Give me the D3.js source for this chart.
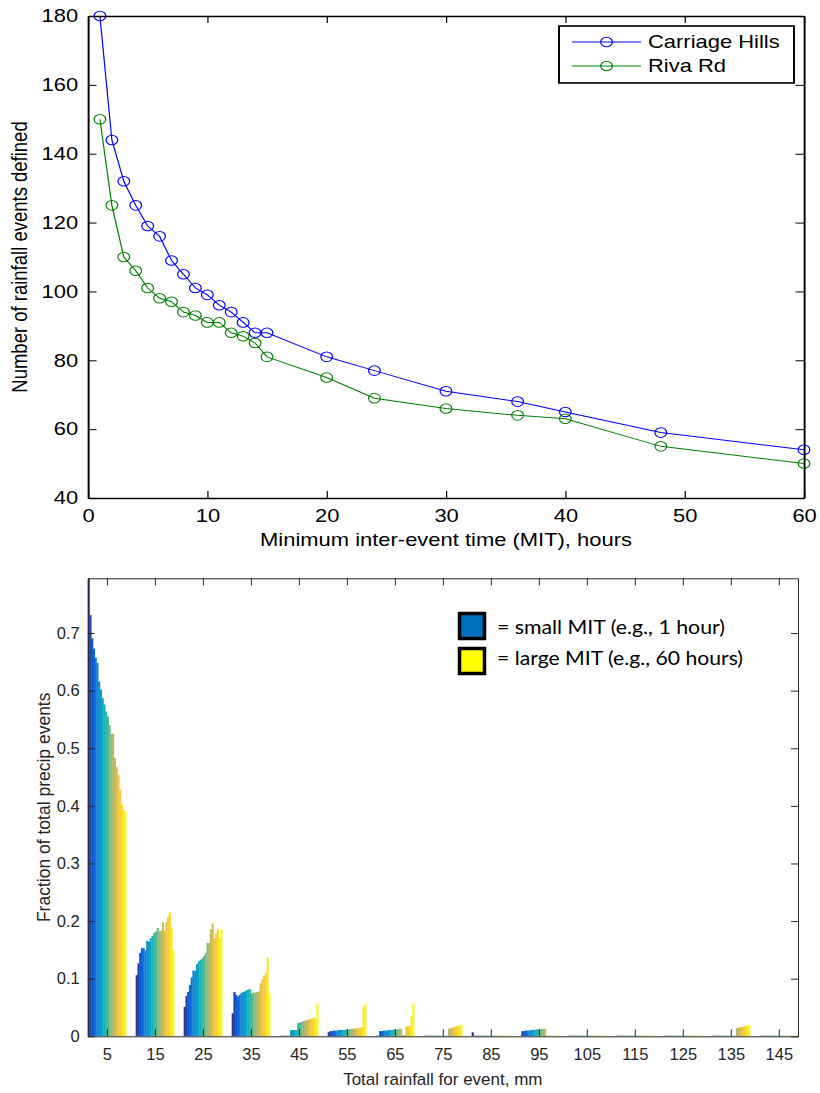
<!DOCTYPE html>
<html><head><meta charset="utf-8">
<script src="https://cdn.jsdelivr.net/npm/d3@7"></script>
<style>body{margin:0;background:#fff} svg{display:block}</style>
</head><body><svg id="c" width="820" height="1093"></svg>
<script>
// ---------- Top chart data ----------
const mit = [1,2,3,4,5,6,7,8,9,10,11,12,13,14,15,20,24,30,36,40,48,60];
const carriageHills = [180,144,132,125,119,116,109,105,101,99,96,94,91,88,88,81,77,71,68,65,59,54];
const rivaRd = [150,125,110,106,101,98,97,94,93,91,91,88,87,85,81,75,69,66,64,63,55,50];
const topXTicks = [0,10,20,30,40,50,60];
const topYTicks = [40,60,80,100,120,140,160,180];
const seriesNames = ["Carriage Hills","Riva Rd"];

// ---------- Bottom chart data (one array per rainfall bin, 22 MIT values each) ----------
const rainBins = [5,15,25,35,45,55,65,75,85,95,105,115,125,135,145];
const frac5   = [0.795,0.731,0.691,0.673,0.657,0.648,0.616,0.602,0.587,0.576,0.564,0.555,0.540,0.525,0.525,0.483,0.468,0.454,0.428,0.402,0.393,0.390];
const frac15  = [0.106,0.127,0.145,0.153,0.153,0.149,0.166,0.164,0.170,0.174,0.179,0.182,0.188,0.183,0.183,0.198,0.183,0.198,0.207,0.215,0.188,0.149];
const frac25  = [0.051,0.070,0.077,0.089,0.102,0.114,0.114,0.125,0.130,0.133,0.135,0.139,0.145,0.162,0.162,0.186,0.196,0.170,0.179,0.186,0.170,0.186];
const frac35  = [0.040,0.077,0.072,0.069,0.072,0.075,0.077,0.078,0.080,0.081,0.082,0.075,0.076,0.076,0.077,0.078,0.092,0.099,0.105,0.110,0.137,0.075];
const frac45  = [0.001,0.001,0.001,0.001,0.001,0.001,0.011,0.011,0.011,0.011,0.023,0.024,0.025,0.026,0.027,0.028,0.029,0.030,0.031,0.032,0.032,0.057];
const frac55  = [0.007,0.009,0.009,0.010,0.010,0.010,0.011,0.011,0.011,0.011,0.012,0.012,0.012,0.013,0.013,0.013,0.014,0.014,0.015,0.016,0.051,0.056];
const frac65  = [0.001,0.001,0.009,0.009,0.010,0.010,0.010,0.011,0.011,0.011,0.012,0.012,0.012,0.013,0.013,0.002,0.002,0.017,0.017,0.018,0.035,0.057];
const frac75  = [0.001,0.001,0.001,0.001,0.001,0.001,0.001,0.001,0.001,0.001,0.001,0.001,0.001,0.001,0.013,0.014,0.015,0.016,0.017,0.018,0.019,0.020];
const frac85  = [0.007,0.001,0.001,0.001,0.001,0.001,0.001,0.001,0.001,0.001,0.001,0.001,0.001,0.001,0.001,0.001,0.001,0.001,0.001,0.001,0.001,0.001];
const frac95  = [0.001,0.009,0.009,0.010,0.010,0.010,0.011,0.011,0.011,0.012,0.012,0.012,0.013,0.013,0.013,0.001,0.001,0.001,0.001,0.001,0.001,0.001];
const frac105 = [0.001,0.001,0.001,0.001,0.001,0.001,0.001,0.001,0.001,0.001,0.001,0.001,0.001,0.001,0.001,0.001,0.001,0.001,0.001,0.001,0.001,0.001];
const frac115 = [0.001,0.001,0.001,0.001,0.001,0.001,0.001,0.001,0.001,0.001,0.001,0.001,0.001,0.001,0.001,0.001,0.001,0.001,0.001,0.001,0.001,0.001];
const frac125 = [0.001,0.001,0.001,0.001,0.001,0.001,0.001,0.001,0.001,0.001,0.001,0.001,0.001,0.001,0.001,0.001,0.001,0.001,0.001,0.001,0.001,0.001];
const frac135 = [0.001,0.001,0.001,0.001,0.001,0.001,0.001,0.001,0.001,0.001,0.001,0.001,0.001,0.001,0.014,0.015,0.016,0.016,0.017,0.018,0.019,0.020];
const frac145 = [0.001,0.001,0.001,0.001,0.001,0.001,0.001,0.001,0.001,0.001,0.001,0.001,0.001,0.001,0.001,0.001,0.001,0.001,0.001,0.001,0.001,0.001];
const fracYTicks = [0,0.1,0.2,0.3,0.4,0.5,0.6,0.7];
const legendLabels = ["= small MIT (e.g., 1 hour)","= large MIT (e.g., 60 hours)"];

const fracByBin = [frac5,frac15,frac25,frac35,frac45,frac55,frac65,frac75,frac85,frac95,frac105,frac115,frac125,frac135,frac145];

const svg = d3.select("#c");

// ================= TOP CHART =================
const SX = 1.22; // horizontal stretch of the original picture
const gTop = svg.append("g").attr("transform", `scale(${SX},1)`);
const tL = 88/SX, tR = 804/SX, tT = 16, tB = 498;
const x1 = d3.scaleLinear().domain([0,60]).range([tL,tR]);
const y1 = d3.scaleLinear().domain([40,180]).range([tB,tT]);
const topFont = "'Liberation Sans', Arial, Helvetica, sans-serif";

const series = [
  {name: seriesNames[0], vals: carriageHills, color: "#0000ff"},
  {name: seriesNames[1], vals: rivaRd, color: "#008000"}
];
const line = d3.line().x(d => x1(d[0])).y(d => y1(d[1]));
series.forEach(s => {
  const pts = mit.map((m,i) => [m, s.vals[i]]);
  gTop.append("path").attr("d", line(pts)).attr("fill","none").attr("stroke", s.color).attr("stroke-width",1);
  gTop.selectAll(null).data(pts).enter().append("circle")
    .attr("cx", d => x1(d[0])).attr("cy", d => y1(d[1])).attr("r", 4.8)
    .attr("fill","none").attr("stroke", s.color).attr("stroke-width",1);
});

function styleTopAxis(g){
  g.selectAll("path.domain").attr("stroke","#000").attr("stroke-width",1.6);
  g.selectAll(".tick line").attr("stroke","#000").attr("stroke-width",1);
  g.selectAll("text").attr("fill","#000").style("font-family", topFont).style("font-size","18px");
}
gTop.append("g").attr("transform",`translate(0,${tB})`)
  .call(d3.axisBottom(x1).tickValues(topXTicks).tickSizeInner(-7).tickSizeOuter(0).tickPadding(11).tickFormat(d3.format("d")))
  .call(styleTopAxis);
gTop.append("g").attr("transform",`translate(0,${tT})`)
  .call(d3.axisTop(x1).tickValues(topXTicks).tickSizeInner(-7).tickSizeOuter(0).tickFormat(""))
  .call(styleTopAxis);
gTop.append("g").attr("transform",`translate(${tL},0)`)
  .call(d3.axisLeft(y1).tickValues(topYTicks).tickSizeInner(-7).tickSizeOuter(0).tickPadding(8).tickFormat(d3.format("d")))
  .call(styleTopAxis);
gTop.append("g").attr("transform",`translate(${tR},0)`)
  .call(d3.axisRight(y1).tickValues(topYTicks).tickSizeInner(-7).tickSizeOuter(0).tickFormat(""))
  .call(styleTopAxis);

gTop.append("text").attr("x", (tL+tR)/2).attr("y", 546).attr("text-anchor","middle")
  .style("font-family", topFont).style("font-size","18px").attr("fill","#000")
  .text("Minimum inter-event time (MIT), hours");
gTop.append("text").attr("transform", `translate(${26.5/SX},${(tT+tB)/2}) rotate(-90)`).attr("text-anchor","middle")
  .style("font-family", topFont).style("font-size","18.5px").attr("fill","#000")
  .text("Number of rainfall events defined");

// legend
const lg = gTop.append("g");
lg.append("rect").attr("x",559/SX).attr("y",26).attr("width",235/SX).attr("height",57)
  .attr("fill","#fff").attr("stroke","#000").attr("stroke-width",1.6);
series.forEach((s,i) => {
  const yy = 42 + i*24;
  lg.append("line").attr("x1",572/SX).attr("x2",641/SX).attr("y1",yy).attr("y2",yy).attr("stroke",s.color).attr("stroke-width",1);
  lg.append("circle").attr("cx",606.5/SX).attr("cy",yy).attr("r",4.8).attr("fill","none").attr("stroke",s.color);
  lg.append("text").attr("x",648/SX).attr("y",yy+6.5).style("font-family",topFont).style("font-size","18px").attr("fill","#000").text(s.name);
});

// ================= BOTTOM CHART =================
const bL = 87.7, bR = 798, bT = 578.3, bB = 1036.3;
const x2 = d3.scaleLinear().domain([1,149]).range([bL,bR]);
const y2 = d3.scaleLinear().domain([0,0.795]).range([bB,bT]);
const groupPx = x2(9) - x2(1);
const inner = d3.scaleBand().domain(d3.range(mit.length)).range([-groupPx/2, groupPx/2]).padding(0);
const parulaStops = ["#352a87","#0363e1","#1485d4","#06a7c6","#38b99e","#92bf73","#d9ba56","#fcce2e","#f9fb0e"];
const parula = d3.scaleLinear().domain(parulaStops.map((c,i)=>i/(parulaStops.length-1))).range(parulaStops).interpolate(d3.interpolateRgb);
const botFont = "Arial, 'Liberation Sans', Helvetica, sans-serif";
const axCol = "#262626";

svg.append("defs").append("clipPath").attr("id","clipB").append("rect")
  .attr("x",bL).attr("y",bT).attr("width",bR-bL).attr("height",bB-bT);
const barsG = svg.append("g").attr("clip-path","url(#clipB)");
rainBins.forEach((bin, bi) => {
  fracByBin[bi].forEach((v, j) => {
    const x0 = x2(bin) + inner(j);
    barsG.append("rect").attr("x", x0).attr("y", y2(v))
      .attr("width", inner.bandwidth()+0.35).attr("height", y2(0)-y2(v))
      .attr("fill", parula(j/(mit.length-1)));
  });
});

function styleBotAxis(g){
  g.selectAll("path.domain").attr("stroke",axCol).attr("stroke-width",1);
  g.selectAll(".tick line").attr("stroke",axCol).attr("stroke-width",1);
  g.selectAll("text").attr("fill",axCol).style("font-family", botFont).style("font-size","16.5px");
}
const fracFmt = d => d === 0 ? "0" : d.toFixed(1);
svg.append("g").attr("transform",`translate(0,${bB})`)
  .call(d3.axisBottom(x2).tickValues(rainBins).tickSizeInner(-7).tickSizeOuter(0).tickPadding(12).tickFormat(d3.format("d")))
  .call(styleBotAxis);
svg.append("g").attr("transform",`translate(0,${bT})`)
  .call(d3.axisTop(x2).tickValues(rainBins).tickSizeInner(-7).tickSizeOuter(0).tickFormat(""))
  .call(styleBotAxis);
svg.append("g").attr("transform",`translate(${bL},0)`)
  .call(d3.axisLeft(y2).tickValues(fracYTicks).tickSizeInner(-7).tickSizeOuter(0).tickPadding(8).tickFormat(fracFmt))
  .call(styleBotAxis);
svg.append("g").attr("transform",`translate(${bR},0)`)
  .call(d3.axisRight(y2).tickValues(fracYTicks).tickSizeInner(-7).tickSizeOuter(0).tickFormat(""))
  .call(styleBotAxis);

svg.append("text").attr("x",(bL+bR)/2).attr("y",1085).attr("text-anchor","middle")
  .style("font-family",botFont).style("font-size","17px").attr("fill",axCol)
  .text("Total rainfall for event, mm");
svg.append("text").attr("transform",`translate(50,${(bT+bB)/2}) rotate(-90)`).attr("text-anchor","middle")
  .style("font-family",botFont).style("font-size","17.5px").attr("fill",axCol)
  .text("Fraction of total precip events");

// bottom legend
const legFill = ["#0070c0","#ffff00"];
const legTextW = [228, 246];
legendLabels.forEach((t,i) => {
  const yy = 613.5 + i*35;
  svg.append("rect").attr("x",459.5).attr("y",yy).attr("width",25).attr("height",25)
    .attr("fill",legFill[i]).attr("stroke","#000").attr("stroke-width",3.5);
  svg.append("text").attr("x",497).attr("y",634 + i*31)
    .attr("textLength", legTextW[i]).attr("lengthAdjust","spacingAndGlyphs")
    .style("font-family","Lato, 'Open Sans', sans-serif").style("font-size","20px").attr("fill","#000")
    .text(t);
});
</script>
</body></html>
